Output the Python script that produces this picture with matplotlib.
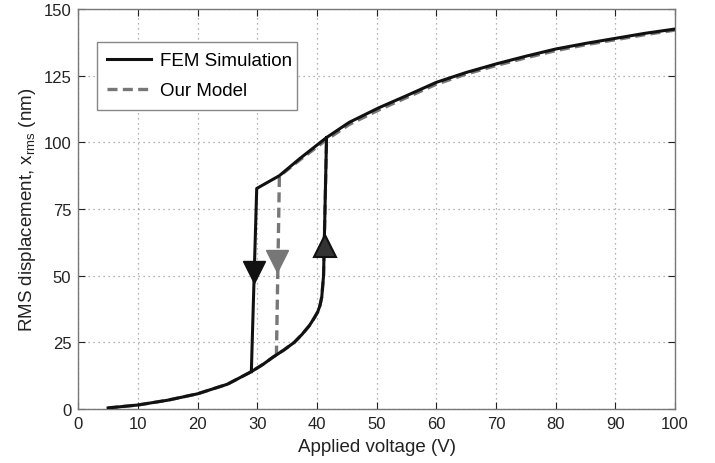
import matplotlib
matplotlib.use("Agg")
import matplotlib.pyplot as plt

plt.rcParams['font.family'] = ['Liberation Sans', 'DejaVu Sans']
plt.rcParams['mathtext.fontset'] = 'custom'
plt.rcParams['mathtext.rm'] = 'Liberation Sans'
plt.rcParams['mathtext.it'] = 'Liberation Sans'

# FEM simulation: up-sweep (lower branch, jump up) and down-sweep (upper branch, jump down)
fem_v_up = [5, 10, 15, 20, 25, 29.0, 31.0, 32.6, 34.5, 36.2, 37.5, 38.7, 39.5,
            40.1, 40.5, 40.8, 41.1, 41.6]
fem_x_up = [0.4, 1.5, 3.3, 5.7, 9.3, 14.0, 16.8, 19.4, 22.2, 25.0, 28.0, 31.2, 34.0,
            36.3, 38.8, 42.0, 50.0, 101.8]
fem_v_down = [29.0, 29.9, 33.7, 37, 41.6, 45.4, 50.4, 55, 60, 65, 70, 75, 80, 85, 90, 95, 100]
fem_x_down = [14.0, 82.7, 87.5, 93.7, 101.8, 107.5, 113, 117.5, 122.5, 126.2, 129.4,
              132.3, 135, 137.1, 139, 140.9, 142.5]

# Our model: same loop, lower jump-down voltage
mdl_v_up = [5, 10, 15, 20, 25, 29.0, 31.0, 32.6, 34.5, 36.2, 37.5, 38.7, 39.5,
            40.1, 40.5, 40.8, 41.1, 41.6]
mdl_x_up = [0.4, 1.5, 3.3, 5.7, 9.3, 14.0, 16.8, 19.4, 22.2, 25.0, 28.0, 31.2, 34.0,
            36.3, 38.8, 42.0, 50.0, 101.2]
mdl_v_down = [33.2, 33.7, 37, 41.6, 45.4, 50.4, 55, 60, 65, 70, 75, 80, 85, 90, 95, 100]
mdl_x_down = [20, 87.3, 93.2, 101.0, 106.7, 112.2, 116.8, 121.8, 125.6, 128.8,
              131.7, 134.4, 136.6, 138.5, 140.4, 142.1]

# Sweep-direction arrows
arrow_fem_down = (29.4, 51.4)
arrow_mdl_down = (33.3, 55.6)
arrow_up = (41.3, 61.2)

x_ticks = list(range(0, 101, 10))
y_ticks = [0, 25, 50, 75, 100, 125, 150]

fig = plt.figure(figsize=(7.15, 4.64), dpi=100)
ax = fig.add_axes([0.1095, 0.1164, 0.8346, 0.862])

dash = (0, (3, 1.6))
ax.plot(mdl_v_up, mdl_x_up, color='#777777', lw=2.4, ls=dash, zorder=2)
ax.plot(mdl_v_down, mdl_x_down, color='#777777', lw=2.4, ls=dash, zorder=2)
ax.plot(fem_v_up, fem_x_up, color='#111111', lw=2.2, zorder=3)
ax.plot(fem_v_down, fem_x_down, color='#111111', lw=2.2, zorder=3)

ax.plot(*arrow_fem_down, marker='v', ms=16, color='#111111', mec='#111111', zorder=4)
ax.plot(*arrow_mdl_down, marker='v', ms=16, color='#777777', mec='#777777', zorder=4)
ax.plot(*arrow_up, marker='^', ms=16, color='#333333', mec='#111111', mew=1.5, zorder=4)

# Legend proxies
ax.plot([], [], color='#111111', lw=2.2, label='FEM Simulation')
ax.plot([], [], color='#777777', lw=2.4, ls=dash, label='Our Model')
leg = ax.legend(loc='upper left', bbox_to_anchor=(0.031, 0.75, 0.336, 0.1675),
                mode='expand', fontsize=13.5,
                fancybox=False, framealpha=1, edgecolor='#888888',
                handlelength=2.35, handletextpad=0.45, borderpad=0.55,
                labelspacing=0.68, borderaxespad=0)
leg.get_frame().set_linewidth(1.0)

ax.set_xlim(0, 100)
ax.set_ylim(0, 150)
ax.set_xticks(x_ticks)
ax.set_yticks(y_ticks)
ax.tick_params(direction='in', top=True, right=True, length=5, labelsize=12,
               colors='#222222', pad=5)
ax.grid(True, ls=(0, (1, 3)), color='#999999', lw=0.9)
for sp in ax.spines.values():
    sp.set_color('#777777')
    sp.set_linewidth(1.0)

ax.set_xlabel('Applied voltage (V)', fontsize=13.5, color='#222222', labelpad=5)
ax.set_ylabel(r'RMS displacement, x$_{\rm rms}$ (nm)', fontsize=13.5,
              color='#222222', labelpad=4)

fig.savefig('out.png', dpi=100)
